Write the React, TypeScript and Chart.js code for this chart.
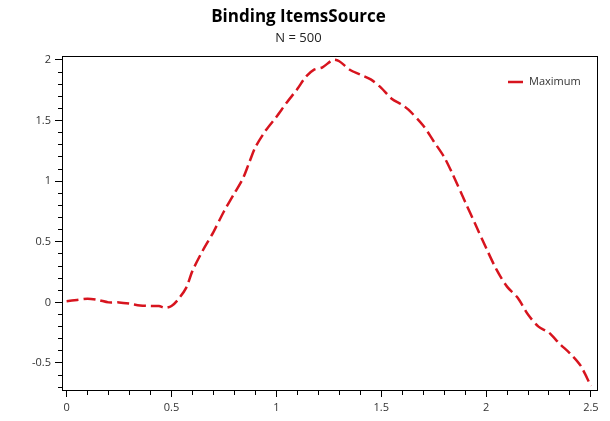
import React, { useEffect, useRef } from "react";
import { Chart, registerables } from "chart.js";

Chart.register(...registerables);

const titleText = "Binding ItemsSource";
const subtitleText = "N = 500";
const seriesLabel = "Maximum";
const seriesColor = "#d7141e";

const xValues = [
  0, 0.05, 0.1, 0.15, 0.2, 0.25, 0.3, 0.35, 0.4, 0.44, 0.47, 0.5, 0.53, 0.57,
  0.6, 0.65, 0.7, 0.75, 0.8, 0.84, 0.87, 0.9, 0.95, 1.0, 1.05, 1.1, 1.14, 1.18,
  1.22, 1.27, 1.3, 1.35, 1.4, 1.45, 1.5, 1.55, 1.6, 1.63, 1.7, 1.75, 1.8, 1.84,
  1.9, 1.95, 2.0, 2.05, 2.1, 2.15, 2.2, 2.25, 2.3, 2.35, 2.4, 2.45, 2.5,
];
const yValues = [
  0.01, 0.02, 0.03, 0.02, 0.0, 0.0, -0.01, -0.025, -0.03, -0.03, -0.045, -0.03,
  0.02, 0.12, 0.26, 0.43, 0.58, 0.75, 0.9, 1.02, 1.15, 1.28, 1.42, 1.53, 1.65,
  1.76, 1.86, 1.92, 1.94, 2.0, 1.99, 1.92, 1.88, 1.84, 1.77, 1.68, 1.63, 1.59,
  1.46, 1.33, 1.2, 1.06, 0.83, 0.64, 0.45, 0.27, 0.13, 0.04, -0.1, -0.2, -0.25,
  -0.34, -0.42, -0.52, -0.69,
];

const xMin = -0.022;
const xMax = 2.529;
const yMin = -0.723;
const yMax = 2.033;
const minorStep = 0.1;

const isMajor = (v: number) => Math.abs(v * 2 - Math.round(v * 2)) < 1e-6;
const fmt = (v: number) => (isMajor(v) ? String(Math.round(v * 2) / 2) : "");

const frameAndLegend = {
  id: "frameAndLegend",
  afterDraw(chart: any) {
    const { ctx, chartArea } = chart;
    ctx.save();
    ctx.strokeStyle = "#000";
    ctx.lineWidth = 1;
    ctx.setLineDash([]);
    ctx.strokeRect(
      Math.round(chartArea.left) + 0.5,
      Math.round(chartArea.top) + 0.5,
      Math.round(chartArea.right - chartArea.left),
      Math.round(chartArea.bottom - chartArea.top)
    );
    const ds = chart.data.datasets[0];
    const ly = chartArea.top + 26;
    const lx = chartArea.right - 89;
    ctx.strokeStyle = ds.borderColor;
    ctx.lineWidth = 2.5;
    ctx.beginPath();
    ctx.moveTo(lx, ly);
    ctx.lineTo(lx + 15, ly);
    ctx.stroke();
    ctx.fillStyle = "#333";
    ctx.font = "11px 'Open Sans', sans-serif";
    ctx.textBaseline = "middle";
    ctx.textAlign = "left";
    ctx.fillText(ds.label, lx + 21, ly);
    ctx.restore();
  },
};

export default function App() {
  const ref = useRef<HTMLCanvasElement | null>(null);
  useEffect(() => {
    if (!ref.current) return;
    Chart.defaults.font.family = "'Open Sans', sans-serif";
    const chart = new Chart(ref.current, {
      type: "line",
      data: {
        datasets: [
          {
            label: seriesLabel,
            data: xValues.map((x, i) => ({ x, y: yValues[i] })),
            borderColor: seriesColor,
            borderWidth: 2.5,
            borderDash: [12, 5],
            pointRadius: 0,
            tension: 0.3,
            fill: false,
          },
        ],
      },
      options: {
        animation: false,
        responsive: false,
        layout: { padding: { left: 0, right: 13, top: 0, bottom: 0 } },
        plugins: {
          legend: { display: false },
          tooltip: { enabled: false },
          title: {
            display: true,
            text: titleText,
            color: "#000",
            font: { size: 17, weight: "bold" },
            padding: { top: 7, bottom: 2 },
          },
          subtitle: {
            display: true,
            text: subtitleText,
            color: "#222",
            font: { size: 13 },
            padding: { top: 1, bottom: 10 },
          },
        },
        scales: {
          x: {
            type: "linear",
            min: xMin,
            max: xMax,
            afterFit: (s: any) => {
              s.height = 31;
            },
            border: { display: true, color: "#000", width: 1 },
            grid: {
              drawOnChartArea: false,
              drawTicks: true,
              tickLength: 7,
              tickColor: "#000",
              tickBorderDash: (c: any) =>
                c.tick && isMajor(c.tick.value) ? [] : [4, 100],
            },
            ticks: {
              stepSize: minorStep,
              includeBounds: false,
              autoSkip: false,
              maxTicksLimit: 100,
              maxRotation: 0,
              padding: 4,
              color: "#333",
              font: { size: 11 },
              callback: (v: any) => fmt(Number(v)),
            },
          },
          y: {
            type: "linear",
            min: yMin,
            max: yMax,
            afterFit: (s: any) => {
              s.width = 62;
            },
            border: { display: true, color: "#000", width: 1 },
            grid: {
              drawOnChartArea: false,
              drawTicks: true,
              tickLength: 7,
              tickColor: "#000",
              tickBorderDash: (c: any) =>
                c.tick && isMajor(c.tick.value) ? [] : [0, 3, 4, 100],
            },
            ticks: {
              stepSize: minorStep,
              includeBounds: false,
              autoSkip: false,
              maxTicksLimit: 100,
              padding: 4,
              color: "#333",
              font: { size: 11 },
              callback: (v: any) => fmt(Number(v)),
            },
          },
        },
      },
      plugins: [frameAndLegend],
    } as any);
    return () => chart.destroy();
  }, []);
  return (
    <div style={{ position: "absolute", left: 0, top: 0, width: 610, height: 421, background: "#fff" }}>
      <canvas ref={ref} width={610} height={421} style={{ display: "block" }} />
    </div>
  );
}
